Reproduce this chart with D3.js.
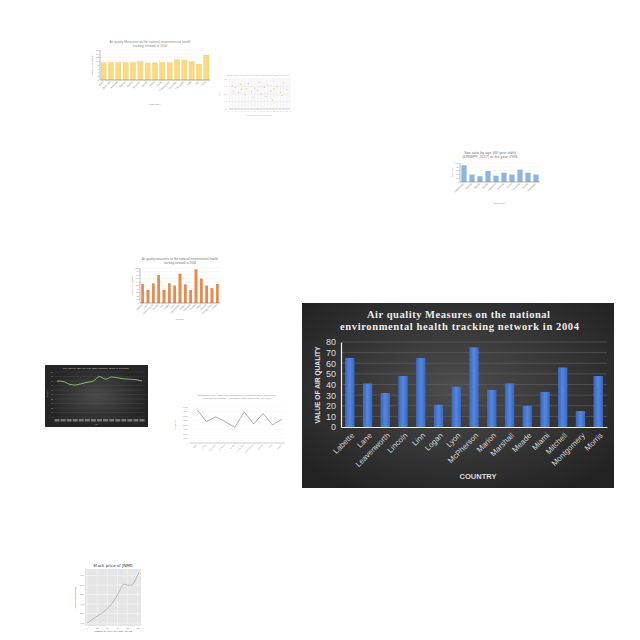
<!DOCTYPE html>
<html><head><meta charset="utf-8">
<script src="https://cdn.jsdelivr.net/npm/d3@7"></script>
<style>html,body{margin:0;padding:0;background:#fff;}svg{display:block;}</style>
</head><body>
<svg id="c" width="640" height="640"></svg>
<script>
// ---------- main chart data ----------
const mainCategories = ["Labette","Lane","Leavenworth","Lincoln","Linn","Logan","Lyon","McPherson","Marion","Marshall","Meade","Miami","Mitchell","Montgomery","Morris"];
const mainValues = [65,41,32,48,65,21,38,75,35,41,20,33,56,15,48];
const mainYTicks = [0,10,20,30,40,50,60,70,80];
const mainTitle = ["Air quality Measures on the national","environmental health tracking network in 2004"];

// ---------- thumbnail data ----------
const aCategories = ["Allen","Anderson","Atchison","Barber","Barton","Bourbon","Brown","Butler","Chase","Chautauqua","Cherokee","Cheyenne","Clark","Clay","Cloud"];
const aValues = [9.2,9.4,9.4,9.2,9.2,9.8,9.1,9.1,9.4,9.2,10.8,10.7,9.8,8.5,13.3];
const aTicks = [0,2,4,6,8,10,12,14,16];

const bX = [1,1.5,2,3,3.5,4,5,5.5,6,7,7.5,8,9,9.5,10,11,11.5,12,13,13.5,14,15,16,16.5,17,18];
const bY = [3.1,2.4,2.9,2.2,3.3,2.6,1.9,2.7,3.4,2.3,1.5,2.8,2.5,3.6,2.0,2.9,1.7,3.2,2.4,1.2,2.7,3.0,2.2,1.8,3.5,2.6];
const bXTicks = [0,1,2,3,4,5,6,7,8,9,10,11,12,13,14,15,16,17,18,19];
const bYTicks = [0,1,2,3,4];

const cCategories = ["Afghanistan","Albania","Algeria","Angola","Argentina","Armenia","Aruba","Australia","Austria","Azerbaijan"];
const cValues = [88,39,30,58,33,49,39,65,49,39];
const cTicks = [0,20,40,60,80,100];

const dCategories = ["Labette","Lane","Leavenworth","Lincoln","Linn","Logan","Lyon","McPherson","Marion","Marshall","Meade","Miami","Mitchell","Montgomery","Morris"];
const dValues = [53,37,55,79,37,56,49,83,52,36,95,69,49,42,54];
const dTicks = [0,10,20,30,40,50,60,70,80,90,100];

const eYears = ["2003","2004","2005","2006","2007","2008","2009","2010","2011","2012","2013","2014","2015","2016","2017"];
const eValues = [80,79,73,71,74,77,80,90,84,89,87,85,84,83,80];
const eTicks = [0,10,20,30,40,50,60,70,80,90,100];

const fCategories = ["Chile","China","Colombia","Comoros","Congo","Costa Rica","Cote d'Ivoire","Croatia","Cuba","Cyprus"];
const fValues = [74200,47300,58200,47300,34900,69100,42200,65500,40000,53100];
const fTicks = [0,10000,20000,30000,40000,50000,60000,70000,80000];

const gDays = [0,20,35,48,60,72,80,88,92,100,110,118,128];
const gPrices = [10,16,20,24.5,30,37.5,44,50,51,50,50,54.5,63.5];
const gXTicks = [0,25,50,75,100,125];
const gYTicks = [10,20,30,40,50,60];

const svg = d3.select("#c");
const defs = svg.append("defs");

// ---------- helpers ----------
function tinyTitle(lines, cx, y, size, color, lh) {
  const t = svg.append("text").attr("text-anchor","middle").attr("font-family","Liberation Sans, Arial, sans-serif")
    .attr("font-size",size).attr("fill",color);
  lines.forEach((l,i)=>t.append("tspan").attr("x",cx).attr("y",y+i*lh).text(l));
}
function rotLabels(g, x, cats, y0, size, color) {
  cats.forEach(c=>{
    g.append("text").attr("transform",`translate(${x(c)+x.bandwidth()/2},${y0}) rotate(-45)`)
      .attr("text-anchor","end").attr("font-size",size).attr("fill",color)
      .attr("font-family","Liberation Sans, Arial, sans-serif").text(c);
  });
}
function miniBar(opts) {
  const g = svg.append("g");
  const x = d3.scaleBand().domain(opts.cats).range([opts.x0,opts.x1]).paddingInner(opts.pad).paddingOuter(opts.pad/2);
  const y = d3.scaleLinear().domain([0,opts.max]).range([opts.y1,opts.y0]);
  opts.ticks.forEach(t=>{
    g.append("line").attr("x1",opts.x0).attr("x2",opts.x1).attr("y1",y(t)).attr("y2",y(t)).attr("stroke","#e6e6e6").attr("stroke-width",0.3);
    g.append("text").attr("x",opts.x0-1).attr("y",y(t)+0.8).attr("text-anchor","end").attr("font-size",opts.fs).attr("fill","#888")
      .attr("font-family","Liberation Sans, Arial, sans-serif").text(t);
  });
  g.selectAll("rect.b").data(opts.vals).join("rect")
    .attr("x",(d,i)=>x(opts.cats[i])).attr("width",x.bandwidth())
    .attr("y",d=>y(d)).attr("height",d=>y(0)-y(d))
    .attr("fill",opts.fill).attr("stroke",opts.stroke||"none").attr("stroke-width",0.3);
  g.append("line").attr("x1",opts.x0).attr("x2",opts.x1).attr("y1",opts.y1).attr("y2",opts.y1).attr("stroke","#777").attr("stroke-width",0.5);
  g.append("line").attr("x1",opts.x0).attr("x2",opts.x0).attr("y1",opts.y0).attr("y2",opts.y1).attr("stroke","#777").attr("stroke-width",0.5);
  rotLabels(g, x, opts.cats, opts.y1+2, opts.fs, "#888");
  g.append("text").attr("transform",`translate(${opts.x0-7},${(opts.y0+opts.y1)/2}) rotate(-90)`).attr("text-anchor","middle")
    .attr("font-size",opts.fs).attr("fill","#888").attr("font-family","Liberation Sans, Arial, sans-serif").text(opts.ylabel);
  g.append("text").attr("x",(opts.x0+opts.x1)/2).attr("y",opts.xlabY).attr("text-anchor","middle")
    .attr("font-size",opts.fs).attr("fill","#888").attr("font-family","Liberation Sans, Arial, sans-serif").text(opts.xlabel);
}

// ---------- Thumbnail A: yellow bars ----------
tinyTitle(["Air quality Measures on the national environmental health","tracking network in 2004"],150,43,3.2,"#888",4);
miniBar({cats:aCategories, vals:aValues, max:16, ticks:aTicks, x0:100, x1:210, y0:50, y1:80, pad:0.3,
  fill:"#fad983", stroke:"#eec35a", fs:2.5, ylabel:"Value of air quality", xlabel:"COUNTRY", xlabY:105});

// ---------- Thumbnail B: scatter ----------
(function(){
  const g = svg.append("g");
  const x = d3.scaleLinear().domain([0,19]).range([229,290]);
  const y = d3.scaleLinear().domain([0,4]).range([109,79]);
  g.append("rect").attr("x",229).attr("y",79).attr("width",61).attr("height",30).attr("fill","#fafafa");
  bXTicks.forEach(t=>{
    g.append("line").attr("x1",x(t)).attr("x2",x(t)).attr("y1",79).attr("y2",109).attr("stroke","#e2e2e2").attr("stroke-width",0.3);
    g.append("text").attr("x",x(t)).attr("y",112).attr("text-anchor","middle").attr("font-size",2).attr("fill","#999").text(t);
  });
  bYTicks.forEach(t=>{
    g.append("line").attr("x1",229).attr("x2",290).attr("y1",y(t)).attr("y2",y(t)).attr("stroke","#e2e2e2").attr("stroke-width",0.3);
    g.append("text").attr("x",227).attr("y",y(t)+0.7).attr("text-anchor","end").attr("font-size",2).attr("fill","#999").text(t.toFixed(1));
  });
  g.selectAll("circle").data(bX).join("circle").attr("cx",d=>x(d)).attr("cy",(d,i)=>y(bY[i])).attr("r",0.6).attr("fill","#e0c060");
  g.append("line").attr("x1",229).attr("x2",290).attr("y1",109).attr("y2",109).attr("stroke","#999").attr("stroke-width",0.4);
  tinyTitle(["Crude birth rate (births per 1,000 population) in the year 1990"],258,76,2.3,"#aaa",3);
  g.append("text").attr("x",259).attr("y",115.5).attr("text-anchor","middle").attr("font-size",2).attr("fill","#aaa").text("Crude birth rate per 1000 people");
  g.append("text").attr("transform","translate(220,94) rotate(-90)").attr("text-anchor","middle").attr("font-size",2).attr("fill","#aaa").text("Rate");
})();

// ---------- Thumbnail C: blue bars ----------
tinyTitle(["Sex ratio by age (60 year olds)","(UNWPP, 2017) in the year 1996"],490,153.5,3.8,"#777",4.2);
miniBar({cats:cCategories, vals:cValues, max:100, ticks:cTicks, x0:460, x1:540, y0:163, y1:182, pad:0.35,
  fill:"#8fb4de", fs:2.4, ylabel:"Sex ratio", xlabel:"COUNTRY", xlabY:204});

// ---------- Thumbnail D: orange bars ----------
tinyTitle(["Air quality measures on the national environmental health","tracking network in 2004"],180,260,3,"#777",3.6);
miniBar({cats:dCategories, vals:dValues, max:100, ticks:dTicks, x0:140, x1:220, y0:268, y1:303, pad:0.55,
  fill:"#e9894a", stroke:"#d9712f", fs:2.4, ylabel:"Value of air quality", xlabel:"Country", xlabY:320});

// ---------- Thumbnail E: dark line ----------
(function(){
  const g = svg.append("g");
  const grad = defs.append("radialGradient").attr("id","eg");
  grad.append("stop").attr("offset","0%").attr("stop-color","#4a4a4a");
  grad.append("stop").attr("offset","100%").attr("stop-color","#252525");
  g.append("rect").attr("x",45).attr("y",365).attr("width",103).attr("height",62).attr("fill","url(#eg)");
  const x = d3.scalePoint().domain(eYears).range([57,142]);
  const y = d3.scaleLinear().domain([0,100]).range([417,372]);
  eTicks.forEach(t=>{
    g.append("line").attr("x1",55).attr("x2",145).attr("y1",y(t)).attr("y2",y(t)).attr("stroke","#555").attr("stroke-width",0.3);
    g.append("text").attr("x",53).attr("y",y(t)+0.7).attr("text-anchor","end").attr("font-size",2).attr("fill","#bbb").text(t);
  });
  eYears.forEach(yr=>{
    g.append("rect").attr("x",x(yr)-2.5).attr("y",419).attr("width",5).attr("height",2.5).attr("fill","#777");
  });
  g.append("path").datum(eValues).attr("d",d3.line().x((d,i)=>x(eYears[i])).y(d=>y(d)).curve(d3.curveMonotoneX))
    .attr("fill","none").attr("stroke","#a9d18e").attr("stroke-width",0.8);
  tinyTitle(["Sex ratio by age (60 year olds) (UNWPP, 2017) in Germany"],96,369,2.5,"#ccc",3);
  g.append("text").attr("x",96).attr("y",424.8).attr("text-anchor","middle").attr("font-size",2).attr("fill","#bbb").text("Year");
  g.append("text").attr("transform","translate(48,394) rotate(-90)").attr("text-anchor","middle").attr("font-size",2).attr("fill","#bbb").text("Sex ratio");
})();

// ---------- Thumbnail F: gray line ----------
(function(){
  const g = svg.append("g");
  const x = d3.scalePoint().domain(fCategories).range([197,282]);
  const y = d3.scaleLinear().domain([0,80000]).range([443,407]);
  fTicks.forEach(t=>{
    g.append("line").attr("x1",190).attr("x2",285).attr("y1",y(t)).attr("y2",y(t)).attr("stroke","#eee").attr("stroke-width",0.3);
    g.append("text").attr("x",188).attr("y",y(t)+0.7).attr("text-anchor","end").attr("font-size",2).attr("fill","#888").text(t);
  });
  g.append("line").attr("x1",190).attr("x2",285).attr("y1",443).attr("y2",443).attr("stroke","#888").attr("stroke-width",0.4);
  g.append("path").datum(fValues).attr("d",d3.line().x((d,i)=>x(fCategories[i])).y(d=>y(d)))
    .attr("fill","none").attr("stroke","#9a9a9a").attr("stroke-width",0.8);
  fCategories.forEach(c=>{
    g.append("text").attr("transform",`translate(${x(c)},445) rotate(-45)`).attr("text-anchor","end")
      .attr("font-size",2.2).attr("fill","#888").text(c);
  });
  tinyTitle(["Estimates, 1950 - 2020: Total population by broad age group, both sexes","combined (thousands) - Population under age 5 in the year 1950"],237,396,2.4,"#888",3.4);
  g.append("text").attr("transform","translate(176,425) rotate(-90)").attr("text-anchor","middle").attr("font-size",2.2).attr("fill","#888").text("Population");
})();

// ---------- Thumbnail G: stock ----------
(function(){
  const g = svg.append("g");
  const x = d3.scaleLinear().domain([-5,133]).range([85,141]);
  const y = d3.scaleLinear().domain([7,67]).range([626,569]);
  g.append("rect").attr("x",85).attr("y",569).attr("width",56).attr("height",57).attr("fill","#e5e5e5");
  gXTicks.forEach(t=>{
    g.append("line").attr("x1",x(t)).attr("x2",x(t)).attr("y1",569).attr("y2",626).attr("stroke","#fff").attr("stroke-width",0.4);
    g.append("text").attr("x",x(t)).attr("y",628.5).attr("text-anchor","middle").attr("font-size",2).attr("fill","#555").text(t);
  });
  gYTicks.forEach(t=>{
    g.append("line").attr("x1",85).attr("x2",141).attr("y1",y(t)).attr("y2",y(t)).attr("stroke","#fff").attr("stroke-width",0.4);
    g.append("text").attr("x",84).attr("y",y(t)+0.7).attr("text-anchor","end").attr("font-size",2).attr("fill","#555").text(t.toFixed(1));
  });
  g.append("path").datum(gPrices).attr("d",d3.line().x((d,i)=>x(gDays[i])).y(d=>y(d)).curve(d3.curveMonotoneX))
    .attr("fill","none").attr("stroke","#999").attr("stroke-width",0.6);
  g.append("text").attr("x",113).attr("y",567).attr("text-anchor","middle").attr("font-size",4).attr("fill","#333")
    .attr("font-family","DejaVu Sans, sans-serif").text("Stock price of JNMD");
  g.append("text").attr("x",113).attr("y",632).attr("text-anchor","middle").attr("font-size",2.8).attr("fill","#444").text("Number of Days after 2017-01-04");
  g.append("text").attr("transform","translate(76,598) rotate(-90)").attr("text-anchor","middle").attr("font-size",2.8).attr("fill","#444").text("Stock Price (USD)");
})();

// ---------- Main chart ----------
(function(){
  const g = svg.append("g");
  const grad = defs.append("radialGradient").attr("id","mg").attr("cx","50%").attr("cy","45%").attr("r","65%");
  grad.append("stop").attr("offset","0%").attr("stop-color","#4d4d4d");
  grad.append("stop").attr("offset","100%").attr("stop-color","#232323");
  g.append("rect").attr("x",302).attr("y",303).attr("width",312).attr("height",185).attr("fill","url(#mg)");
  const bg = defs.append("linearGradient").attr("id","bargrad").attr("x1","0").attr("x2","1").attr("y1","0").attr("y2","0");
  bg.append("stop").attr("offset","0%").attr("stop-color","#3a66bd");
  bg.append("stop").attr("offset","50%").attr("stop-color","#5587e0");
  bg.append("stop").attr("offset","100%").attr("stop-color","#3a66bd");

  const x = d3.scaleBand().domain(mainCategories).range([341,607]).paddingInner(0.47).paddingOuter(0.23);
  const y = d3.scaleLinear().domain([0,80]).range([427,342]);

  // gridlines
  g.append("g").selectAll("line").data(mainYTicks.slice(1)).join("line")
    .attr("x1",341).attr("x2",607).attr("y1",d=>y(d)).attr("y2",d=>y(d))
    .attr("stroke","#5a5a5a").attr("stroke-width",0.7);

  // y axis
  const ya = g.append("g").attr("transform","translate(341,0)")
    .call(d3.axisLeft(y).tickValues(mainYTicks).tickSize(0).tickPadding(5));
  ya.select(".domain").attr("stroke","#f2f2f2").attr("stroke-width",1.2);
  ya.selectAll("text").attr("fill","#dedede").attr("font-size",9).attr("font-family","Liberation Sans, Arial, sans-serif");

  // bars
  g.selectAll("rect.bar").data(mainValues).join("rect").attr("class","bar")
    .attr("x",(d,i)=>x(mainCategories[i])).attr("width",x.bandwidth())
    .attr("y",d=>y(d)).attr("height",d=>y(0)-y(d))
    .attr("fill","url(#bargrad)");

  // x axis
  const xa = g.append("g").attr("transform","translate(0,427)")
    .call(d3.axisBottom(x).tickSize(0).tickPadding(0));
  xa.select(".domain").attr("stroke","#f2f2f2").attr("stroke-width",1.2);
  xa.selectAll("text").attr("fill","#d8d8d8").attr("font-size",7.8).attr("font-family","Liberation Sans, Arial, sans-serif")
    .attr("text-anchor","end").attr("dy","0.35em").attr("dx","0")
    .attr("transform","translate(3,7) rotate(-45)");

  // titles
  const tl = [[458.5,317.5,183],[459.5,329.5,239]];
  mainTitle.forEach((t,i)=>{
    g.append("text").attr("x",tl[i][0]).attr("y",tl[i][1]).attr("text-anchor","middle")
      .attr("font-family","Liberation Serif, Times New Roman, serif").attr("font-weight","bold")
      .attr("font-size",10.5).attr("fill","#ececec")
      .attr("textLength",tl[i][2]).attr("lengthAdjust","spacing").text(t);
  });
  g.append("text").attr("x",478).attr("y",479).attr("text-anchor","middle").attr("font-family","Liberation Sans, Arial, sans-serif")
    .attr("font-weight","bold").attr("font-size",7.5).attr("fill","#dedede").text("COUNTRY");
  g.append("text").attr("transform","translate(320,385) rotate(-90)").attr("text-anchor","middle").attr("font-family","Liberation Sans, Arial, sans-serif")
    .attr("font-weight","bold").attr("font-size",7).attr("fill","#e4e4e4")
    .attr("textLength",77).attr("lengthAdjust","spacingAndGlyphs").text("VALUE OF AIR QUALITY");
})();
</script>
</body></html>
